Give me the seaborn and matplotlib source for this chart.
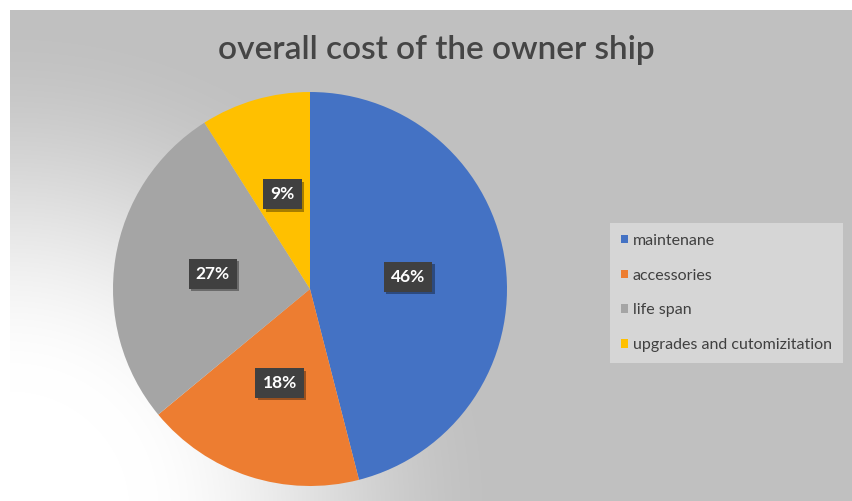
import numpy as np
import matplotlib
matplotlib.use("Agg")
import matplotlib.pyplot as plt
import matplotlib.patheffects as pe
from matplotlib.patches import Patch
import seaborn as sns

categories = ["maintenane", "accessories", "life span", "upgrades and cutomizitation"]
values = [46, 18, 27, 9]
colors = ["#4472C4", "#ED7D31", "#A5A5A5", "#FFC000"]
title = "overall cost of the owner ship"

sns.set_theme(style="white")
plt.rcParams["font.family"] = ["Lato", "DejaVu Sans"]

W, H = 852, 501
fig = plt.figure(figsize=(W / 100, H / 100), dpi=100)
fig.patch.set_facecolor("white")

# background gradient (radial, light toward bottom-left)
bg = fig.add_axes([10 / W, 0, (W - 10) / W, (H - 10) / H])
bw, bh = W - 10, H - 10
xx, yy = np.meshgrid(np.arange(bw), np.arange(bh))
d = np.hypot(xx - 0, yy - (bh + 10))
t = np.clip((d - 120) / 380, 0, 1)
t = t * t * (3 - 2 * t)
light, dark = 1.0, 0.753
img = light + (dark - light) * t
bg.imshow(np.dstack([img, img, img]), aspect="auto", extent=(0, 1, 0, 1), origin="upper")
bg.set_axis_off()

# pie
r = 197
cx, cy = 310, 289
ax = fig.add_axes([(cx - r) / W, 1 - (cy + r) / H, 2 * r / W, 2 * r / H])
wedges, texts, autotexts = ax.pie(
    values, colors=colors, startangle=90, counterclock=False,
    autopct=lambda p: f"{p:.0f}%", pctdistance=0.5,
    wedgeprops=dict(linewidth=0),
    textprops=dict(color="white", fontsize=12.5, fontweight="bold"),
)
for at in autotexts:
    at.set_bbox(dict(boxstyle="square,pad=0.4", facecolor="#404040", edgecolor="none"))
    at.get_bbox_patch().set_path_effects([
        pe.SimplePatchShadow(offset=(2, -2), shadow_rgbFace="black", alpha=0.35),
        pe.Normal()])
ax.set_xlim(-1, 1)
ax.set_ylim(-1, 1)
ax.set_axis_off()

fig.text(436 / W, 1 - 50 / H, title, ha="center", va="center",
         fontsize=24, fontweight="semibold", color="#454545")

handles = [Patch(facecolor=c, edgecolor="none") for c in colors]
leg = fig.legend(handles, categories, loc="upper left",
                 bbox_to_anchor=(610 / W, 1 - 223 / H), frameon=True,
                 fancybox=False, fontsize=11.5, labelspacing=1.3,
                 handlelength=0.45, handleheight=0.45, handletextpad=0.3,
                 borderpad=0.68, borderaxespad=0)
leg.get_frame().set_facecolor("#d6d6d6")
leg.get_frame().set_edgecolor("none")
leg.get_frame().set_alpha(1)
for tx in leg.get_texts():
    tx.set_color("#404040")

fig.savefig("out.png", dpi=100)
